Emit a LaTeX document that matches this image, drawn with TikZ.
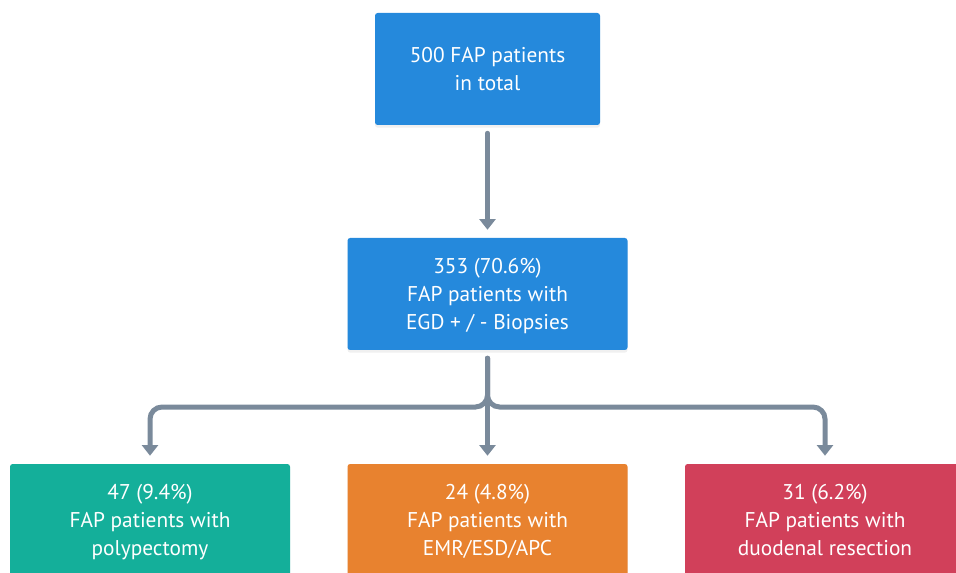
\documentclass[tikz,border=0pt]{standalone}
\usepackage{fontspec}
\setmainfont{PT Sans}
\usetikzlibrary{arrows.meta,shadows}

\definecolor{boxblue}{HTML}{2589DC}
\definecolor{boxteal}{HTML}{14AF9A}
\definecolor{boxorange}{HTML}{E8822F}
\definecolor{boxred}{HTML}{D1405A}
\definecolor{flowgray}{HTML}{7A8A9B}

\tikzset{
  stage/.style={rectangle,rounded corners=2pt,minimum width=210pt,minimum height=84pt,
    text=white,align=center,font=\fontsize{16}{21}\selectfont,text depth=-1pt,
    drop shadow={opacity=0.12,shadow xshift=0pt,shadow yshift=-2pt}},
  flow/.style={draw=flowgray,line width=3.75pt,line cap=round,
    -{Triangle[width=12pt,length=8pt]},shorten <=6pt,shorten >=6pt}
}

\begin{document}
\begin{tikzpicture}[x=0.75pt,y=-0.75pt]
\clip (0,0) rectangle (956,573);
\useasboundingbox (0,0) rectangle (956,573);
\node[stage,fill=boxblue,minimum width=168.75pt] (total) at (487.5,69) {500 FAP patients\\in total};
\node[stage,fill=boxblue] (egd) at (487.5,294) {353 (70.6\%)\\FAP patients with\\EGD + / - Biopsies};
\node[stage,fill=boxteal] (poly) at (150,520) {47 (9.4\%)\\FAP patients with\\polypectomy};
\node[stage,fill=boxorange] (emr) at (487.5,520) {24 (4.8\%)\\FAP patients with\\EMR/ESD/APC};
\node[stage,fill=boxred] (resect) at (825,520) {31 (6.2\%)\\FAP patients with\\duodenal resection};
\coordinate (fork) at (487.5,407);
\draw[flow] (total) -- (egd);
\draw[flow] (egd) -- (emr);
\draw[flow,rounded corners=9pt] (egd.south) -- (fork) -| (poly.north);
\draw[flow,rounded corners=9pt] (egd.south) -- (fork) -| (resect.north);
\end{tikzpicture}
\end{document}
